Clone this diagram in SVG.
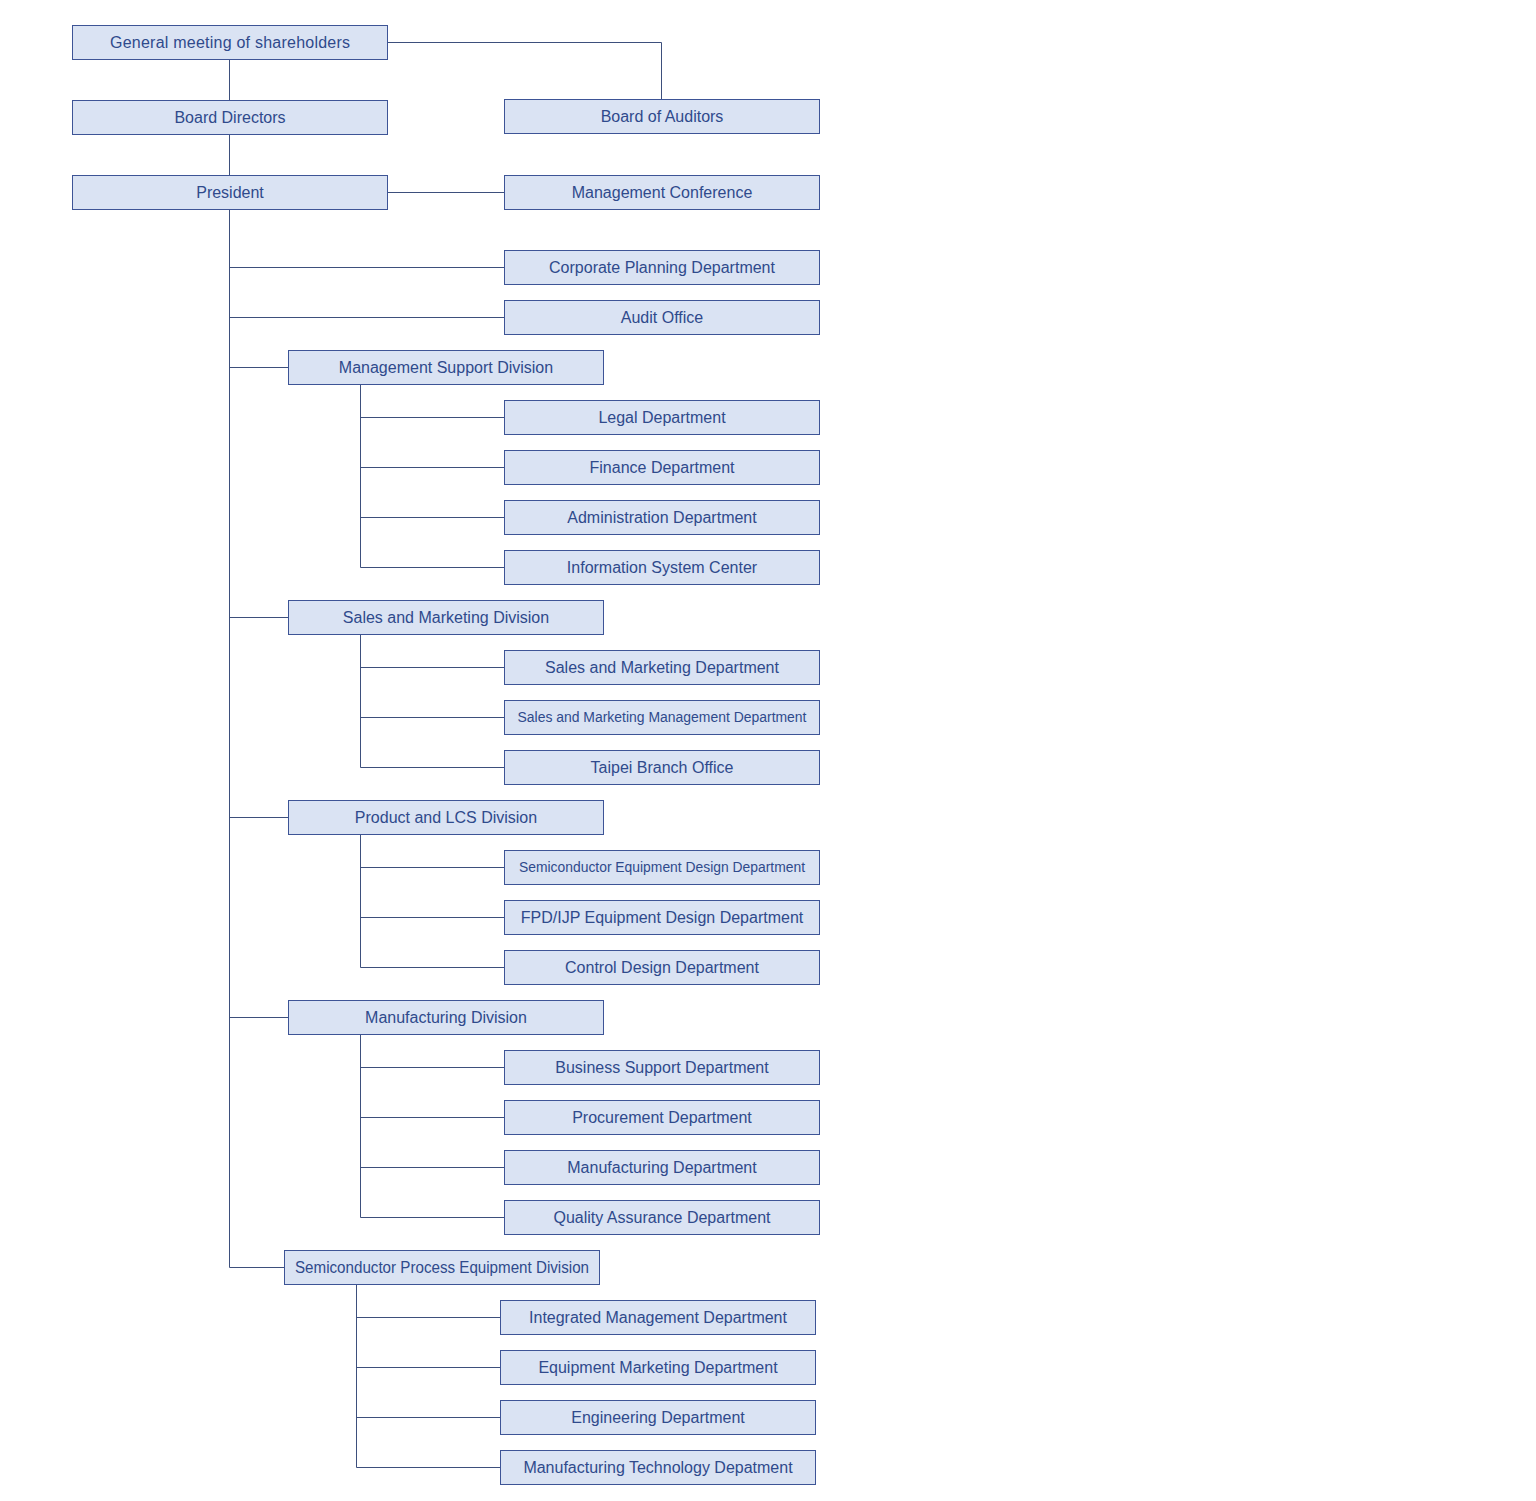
<svg xmlns="http://www.w3.org/2000/svg" width="1536" height="1501" viewBox="0 0 1536 1501">
<style>
.b{fill:#dae3f3;stroke:#3d5496;stroke-width:1}
.t{font-family:"Liberation Sans",Arial,sans-serif;font-size:16px;fill:#2f4a8c;text-anchor:middle;dominant-baseline:central}
.s{font-size:14px}
.c{fill:none;stroke:#3d4f7c;stroke-width:1}
</style>
<rect width="1536" height="1501" fill="#ffffff"/>
<g id="connectors">
<path class="c" d="M387.5,42.5H661.5V99.5"/>
<path class="c" d="M229.5,59.5V100.5"/>
<path class="c" d="M229.5,134.5V175.5"/>
<path class="c" d="M387.5,192.5H504.5"/>
<path class="c" d="M229.5,209.5V1267.5H284.5"/>
<path class="c" d="M229.5,267.5H504.5M229.5,317.5H504.5M229.5,367.5H288.5M229.5,617.5H288.5M229.5,817.5H288.5M229.5,1017.5H288.5"/>
<path class="c" d="M360.5,384.5V567.5H504.5M360.5,417.5H504.5M360.5,467.5H504.5M360.5,517.5H504.5"/>
<path class="c" d="M360.5,634.5V767.5H504.5M360.5,667.5H504.5M360.5,717.5H504.5"/>
<path class="c" d="M360.5,834.5V967.5H504.5M360.5,867.5H504.5M360.5,917.5H504.5"/>
<path class="c" d="M360.5,1034.5V1217.5H504.5M360.5,1067.5H504.5M360.5,1117.5H504.5M360.5,1167.5H504.5"/>
<path class="c" d="M356.5,1284.5V1467.5H500.5M356.5,1317.5H500.5M356.5,1367.5H500.5M356.5,1417.5H500.5"/>
</g>
<g id="gm"><rect class="b" x="72.5" y="25.5" width="315" height="34"/><text class="t" x="230" y="42" textLength="240" lengthAdjust="spacing">General meeting of shareholders</text></g>
<g id="bd"><rect class="b" x="72.5" y="100.5" width="315" height="34"/><text class="t" x="230" y="117">Board Directors</text></g>
<g id="ba"><rect class="b" x="504.5" y="99.5" width="315" height="34"/><text class="t" x="662" y="116">Board of Auditors</text></g>
<g id="pres"><rect class="b" x="72.5" y="175.5" width="315" height="34"/><text class="t" x="230" y="192">President</text></g>
<g id="mc"><rect class="b" x="504.5" y="175.5" width="315" height="34"/><text class="t" x="662" y="192">Management Conference</text></g>
<g id="cp"><rect class="b" x="504.5" y="250.5" width="315" height="34"/><text class="t" x="662" y="267">Corporate Planning Department</text></g>
<g id="ao"><rect class="b" x="504.5" y="300.5" width="315" height="34"/><text class="t" x="662" y="317">Audit Office</text></g>
<g id="msd"><rect class="b" x="288.5" y="350.5" width="315" height="34"/><text class="t" x="446" y="367">Management Support Division</text></g>
<g id="legal"><rect class="b" x="504.5" y="400.5" width="315" height="34"/><text class="t" x="662" y="417">Legal Department</text></g>
<g id="fin"><rect class="b" x="504.5" y="450.5" width="315" height="34"/><text class="t" x="662" y="467">Finance Department</text></g>
<g id="adm"><rect class="b" x="504.5" y="500.5" width="315" height="34"/><text class="t" x="662" y="517">Administration Department</text></g>
<g id="isc"><rect class="b" x="504.5" y="550.5" width="315" height="34"/><text class="t" x="662" y="567">Information System Center</text></g>
<g id="smd"><rect class="b" x="288.5" y="600.5" width="315" height="34"/><text class="t" x="446" y="617">Sales and Marketing Division</text></g>
<g id="smdep"><rect class="b" x="504.5" y="650.5" width="315" height="34"/><text class="t" x="662" y="667">Sales and Marketing Department</text></g>
<g id="smm"><rect class="b" x="504.5" y="700.5" width="315" height="34"/><text class="t s" x="662" y="717" textLength="289" lengthAdjust="spacingAndGlyphs">Sales and Marketing Management Department</text></g>
<g id="tbo"><rect class="b" x="504.5" y="750.5" width="315" height="34"/><text class="t" x="662" y="767">Taipei Branch Office</text></g>
<g id="plcs"><rect class="b" x="288.5" y="800.5" width="315" height="34"/><text class="t" x="446" y="817">Product and LCS Division</text></g>
<g id="sed"><rect class="b" x="504.5" y="850.5" width="315" height="34"/><text class="t s" x="662" y="867" textLength="286" lengthAdjust="spacingAndGlyphs">Semiconductor Equipment Design Department</text></g>
<g id="fpd"><rect class="b" x="504.5" y="900.5" width="315" height="34"/><text class="t" x="662" y="917">FPD/IJP Equipment Design Department</text></g>
<g id="cdd"><rect class="b" x="504.5" y="950.5" width="315" height="34"/><text class="t" x="662" y="967">Control Design Department</text></g>
<g id="mfd"><rect class="b" x="288.5" y="1000.5" width="315" height="34"/><text class="t" x="446" y="1017">Manufacturing Division</text></g>
<g id="bsd"><rect class="b" x="504.5" y="1050.5" width="315" height="34"/><text class="t" x="662" y="1067">Business Support Department</text></g>
<g id="proc"><rect class="b" x="504.5" y="1100.5" width="315" height="34"/><text class="t" x="662" y="1117">Procurement Department</text></g>
<g id="mdep"><rect class="b" x="504.5" y="1150.5" width="315" height="34"/><text class="t" x="662" y="1167">Manufacturing Department</text></g>
<g id="qa"><rect class="b" x="504.5" y="1200.5" width="315" height="34"/><text class="t" x="662" y="1217">Quality Assurance Department</text></g>
<g id="spe"><rect class="b" x="284.5" y="1250.5" width="315" height="34"/><text class="t" x="442" y="1267" textLength="294" lengthAdjust="spacingAndGlyphs">Semiconductor Process Equipment Division</text></g>
<g id="imd"><rect class="b" x="500.5" y="1300.5" width="315" height="34"/><text class="t" x="658" y="1317">Integrated Management Department</text></g>
<g id="emd"><rect class="b" x="500.5" y="1350.5" width="315" height="34"/><text class="t" x="658" y="1367">Equipment Marketing Department</text></g>
<g id="eng"><rect class="b" x="500.5" y="1400.5" width="315" height="34"/><text class="t" x="658" y="1417">Engineering Department</text></g>
<g id="mtd"><rect class="b" x="500.5" y="1450.5" width="315" height="34"/><text class="t" x="658" y="1467">Manufacturing Technology Depatment</text></g>
</svg>
